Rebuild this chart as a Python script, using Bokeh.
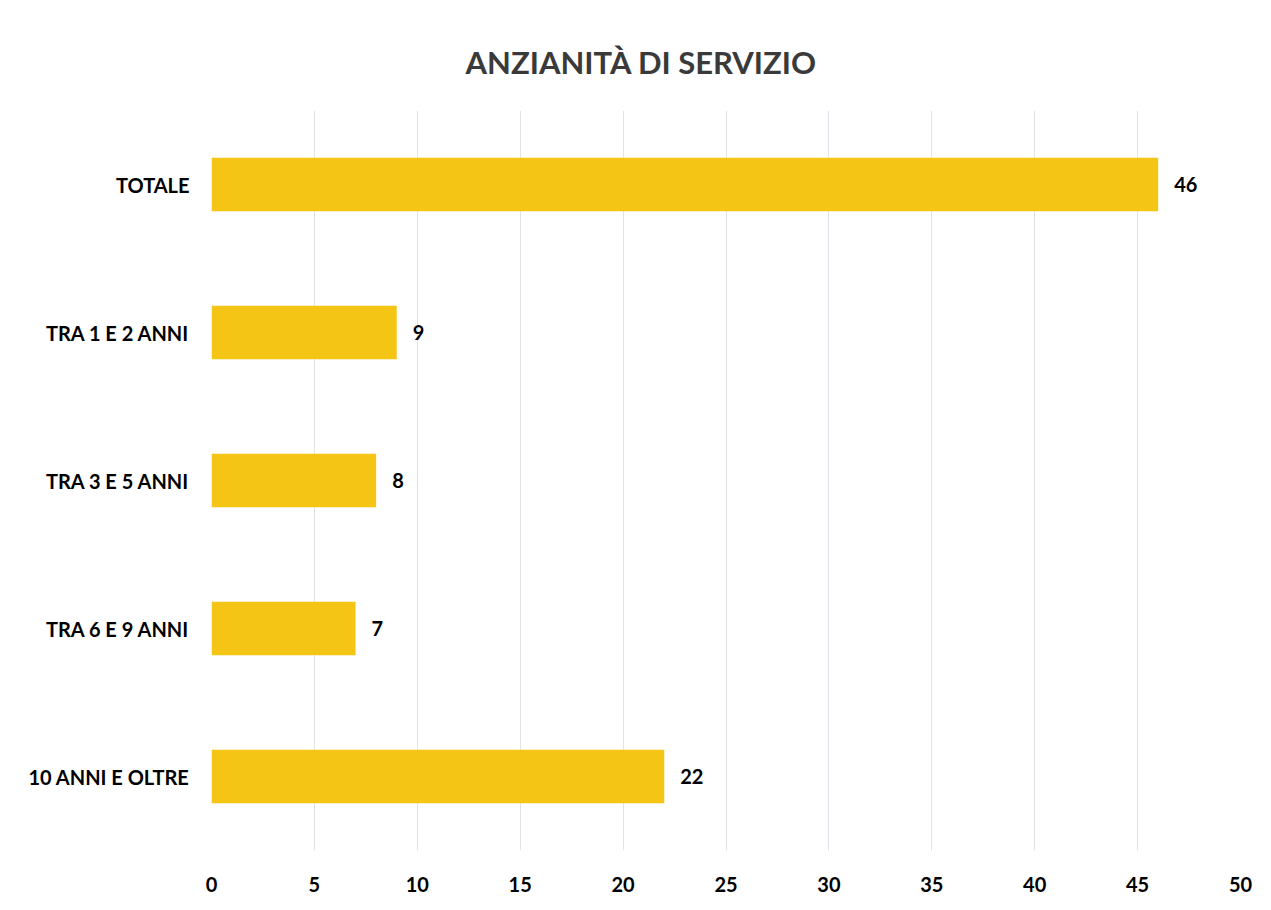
from bokeh.plotting import figure
from bokeh.models import ColumnDataSource, FactorRange, Range1d, FixedTicker, LabelSet
from bokeh.core.properties import value
from bokeh.embed import file_html
from bokeh.resources import INLINE

categories = ["TOTALE", "TRA 1 E 2 ANNI", "TRA 3 E 5 ANNI", "TRA 6 E 9 ANNI", "10 ANNI E OLTRE"]
values = [46, 9, 8, 7, 22]
x_ticks = [0, 5, 10, 15, 20, 25, 30, 35, 40, 45, 50]
title_text = "ANZIANITÀ DI SERVIZIO"

FONT = "Lato"

source = ColumnDataSource(data=dict(cat=categories, val=values, lab=[str(v) for v in values]))

p = figure(width=1255, height=894, output_backend="svg", toolbar_location=None,
           y_range=FactorRange(factors=list(reversed(categories))),
           x_range=Range1d(0, 50),
           min_border_left=211, min_border_right=15, min_border_top=110, min_border_bottom=39,
           title=title_text)

p.hbar(y="cat", right="val", left=0, height=0.36, source=source,
       fill_color="#F4C514", line_color=None)

labels = LabelSet(x="val", y="cat", text="lab", source=source, x_offset=16,
                  text_baseline="middle", text_align="left",
                  text_font=value(FONT), text_font_style="bold", text_font_size="20px",
                  text_color="#000000")
p.add_layout(labels)

p.title.align = "left"
p.title.offset = 254
p.title.text_font = FONT
p.title.text_font_size = "31px"
p.title.text_font_style = "bold"
p.title.text_color = "#3a3a3a"
p.title.standoff = 60

p.xaxis.ticker = FixedTicker(ticks=x_ticks)
p.xaxis.axis_line_color = None
p.xaxis.major_tick_line_color = None
p.xaxis.minor_tick_line_color = None
p.xaxis.major_label_text_font = FONT
p.xaxis.major_label_text_font_style = "bold"
p.xaxis.major_label_text_font_size = "20px"
p.xaxis.major_label_text_color = "#000000"
p.xaxis.major_label_standoff = 20

p.yaxis.axis_line_color = None
p.yaxis.major_tick_line_color = None
p.yaxis.minor_tick_line_color = None
p.yaxis.major_label_text_font = FONT
p.yaxis.major_label_text_font_style = "bold"
p.yaxis.major_label_text_font_size = "20px"
p.yaxis.major_label_text_color = "#000000"
p.yaxis.major_label_standoff = 16

p.xgrid.grid_line_color = "#dfe3ea"
p.xgrid.grid_line_width = 1
p.ygrid.grid_line_color = None
p.outline_line_color = None
p.background_fill_color = "white"
p.border_fill_color = "white"

open("out.html", "w").write(file_html(p, INLINE))
